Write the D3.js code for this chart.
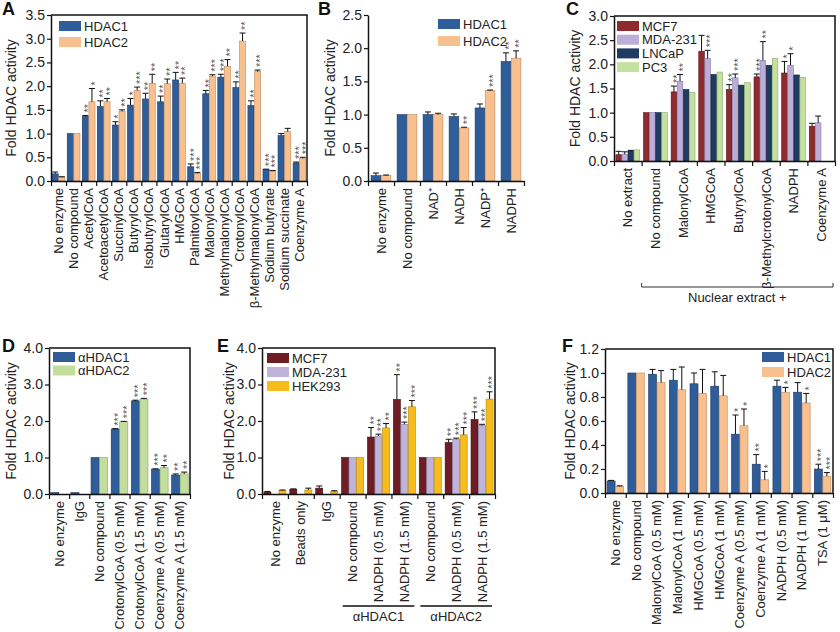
<!DOCTYPE html>
<html><head><meta charset="utf-8">
<script src="https://cdn.jsdelivr.net/npm/d3@7"></script>
<style>body{margin:0;background:#fff} svg{font-family:"Liberation Sans",Arial,Helvetica,sans-serif}</style>
</head><body><svg id="c" width="840" height="632"></svg>
<script>
// ---------- Panel A ----------
const aCats = ["No enzyme","No compound","AcetylCoA","AcetoacetylCoA","SuccinylCoA","ButyrylCoA","IsobutyrylCoA","GlutarylCoA","HMGCoA","PalmitoylCoA","MalonylCoA","MethylmalonylCoA","CrotonylCoA","β-MethylmalonylCoA","Sodium butyrate","Sodium succinate","Coenzyme A"];
const aHDAC1 = [0.15,1.0,1.36,1.57,1.18,1.60,1.73,1.67,2.13,0.30,1.84,2.19,1.97,1.59,0.24,0.96,0.38];
const aHDAC1Err = [0.04,0,0.02,0.12,0.07,0.14,0.12,0.12,0.16,0.06,0.07,0.06,0.12,0.10,0.01,0.04,0.02];
const aHDAC1Sig = ["","","**","**","*","*","**","**","**","***","**","***","**","**","***","","***"];
const aHDAC2 = [0.08,1.0,1.67,1.67,1.47,1.91,2.06,2.05,2.06,0.16,2.21,2.42,2.95,2.31,0.21,1.04,0.48];
const aHDAC2Err = [0.01,0,0.28,0.07,0.03,0.07,0.19,0.10,0.11,0.02,0.03,0.14,0.17,0.03,0.01,0.07,0.02];
const aHDAC2Sig = ["","","*","**","**","***","**","**","**","***","***","**","**","***","***","","***"];
const aTicks = [0,0.5,1,1.5,2,2.5,3,3.5];

// ---------- Panel B ----------
const bCats = ["No enzyme","No compound","NAD⁺","NADH","NADP⁺","NADPH"];
const bHDAC1 = [0.08,1.0,1.0,0.97,1.10,1.80];
const bHDAC1Err = [0.04,0,0.04,0.04,0.06,0.13];
const bHDAC1Sig = ["","","","","","**"];
const bHDAC2 = [0.08,1.0,1.0,0.80,1.36,1.85];
const bHDAC2Err = [0.01,0,0.02,0.01,0.01,0.11];
const bHDAC2Sig = ["","","","**","***","**"];
const bTicks = [0,0.5,1,1.5,2,2.5];

// ---------- Panel C ----------
const cCats = ["No extract","No compound","MalonylCoA","HMGCoA","ButyrylCoA","β-MethylcrotonylCoA","NADPH","Coenzyme A"];
const cMCF7 = [0.13,1,1.43,2.27,1.48,1.74,1.82,0.72];
const cMCF7Err = [0.07,0,0.12,0.33,0.10,0.06,0.24,0.06];
const cMCF7Sig = ["","","**","","**","***","*",""];
const cMDA = [0.14,1,1.65,2.12,1.72,2.08,1.98,0.79];
const cMDAErr = [0.05,0,0.14,0.17,0.08,0.39,0.24,0.14];
const cMDASig = ["","","**","***","***","**","*",""];
const cLNCaP = [0.21,1,1.48,1.79,1.57,1.98,1.78,null];
const cLNCaPErr = [0.01,0,0,0,0,0,0,0];
const cPC3 = [0.23,1,1.42,1.84,1.62,2.12,1.73,null];
const cPC3Err = [0,0,0,0,0,0,0,0];
const cTicks = [0,0.5,1,1.5,2,2.5,3];

// ---------- Panel D ----------
const dCats = ["No enzyme","IgG","No compound","CrotonylCoA (0.5 mM)","CrotonylCoA (1.5 mM)","Coenzyme A (0.5 mM)","Coenzyme A (1.5 mM)"];
const dHDAC1 = [0.04,0.04,1,1.78,2.55,0.68,0.52];
const dHDAC1Err = [0,0,0,0.01,0.02,0.01,0.03];
const dHDAC1Sig = ["","","","***","***","***","**"];
const dHDAC2 = [null,null,1,1.98,2.60,0.72,0.55];
const dHDAC2Err = [0,0,0,0.01,0.02,0.06,0.05];
const dHDAC2Sig = ["","","","***","***","**","**"];
const dTicks = [0,1,2,3,4];

// ---------- Panel E ----------
const eCats = ["No enzyme","Beads only","IgG","No compound","NADPH (0.5 mM)","NADPH (1.5 mM)","No compound","NADPH (0.5 mM)","NADPH (1.5 mM)"];
const eMCF7 = [0.05,0.13,0.16,1,1.56,2.59,1,1.41,2.04];
const eMCF7Err = [0.02,0.01,0.06,0,0.26,0.68,0,0.09,0.21];
const eMCF7Sig = ["","","","","**","**","","**","***"];
const eMDA = [null,null,null,1,1.59,1.91,1,1.50,1.88];
const eMDAErr = [0,0,0,0,0.05,0.06,0,0.03,0.03];
const eMDASig = ["","","","","***","***","","***","***"];
const eHEK = [0.10,0.11,0.07,1,1.81,2.39,1,1.62,2.60];
const eHEKErr = [0.01,0.05,0.02,0,0.12,0.17,0,0.20,0.20];
const eHEKSig = ["","","","","**","***","","***","***"];
const eGroups = ["αHDAC1","αHDAC2"];
const eTicks = [0,1,2,3,4];

// ---------- Panel F ----------
const fCats = ["No enzyme","No compound","MalonylCoA (0.5 mM)","MalonylCoA (1 mM)","HMGCoA (0.5 mM)","HMGCoA (1 mM)","Coenzyme A (0.5 mM)","Coenzyme A (1 mM)","NADPH (0.5 mM)","NADPH (1 mM)","TSA (1 μM)"];
const fHDAC1 = [0.10,1,0.99,0.94,0.91,0.89,0.49,0.24,0.89,0.84,0.20];
const fHDAC1Err = [0.005,0,0.04,0.09,0.09,0.12,0.16,0.08,0.05,0.08,0.04];
const fHDAC1Sig = ["","","","","","","*","**","","","***"];
const fHDAC2 = [0.055,1,0.92,0.86,0.83,0.81,0.56,0.11,0.84,0.75,0.14];
const fHDAC2Err = [0.005,0,0.10,0.19,0.20,0.17,0.14,0.07,0.04,0.08,0.03];
const fHDAC2Sig = ["","","","","","","*","*","*","*","***"];
const fTicks = [0,0.2,0.4,0.6,0.8,1.0,1.2];

const COL = {
  blue:["#2f5d9a","#1c3966"], orange:["#f8bf8f","#c08a5f"], green:["#c3dd9c","#87a565"],
  cMCF7:["#8e2b2e","#5a1518"], cMDA:["#bcadd9","#8778a8"], cLNCaP:["#1f3b61","#0f2038"], cPC3:["#c5e1a1","#8cab66"],
  eMCF7:["#6e1d24","#40090e"], eMDA:["#bfb3d9","#8a7eaa"], eHEK:["#f6bc1c","#b58608"]
};

const svg = d3.select("#c");
const FS = 13;     // category labels
const TFS = 14;    // tick labels
const YFS = 14;    // axis titles

function panel(o){
  const g = svg.append("g");
  const n = o.cats.length;
  const y = d3.scaleLinear().domain([0, o.ymax]).range([o.yb, o.yt]);
  const xb = d3.scaleBand().domain(d3.range(n)).range([o.x0, o.x1]).paddingInner(o.pad).paddingOuter(o.pad/2);
  const xs = d3.scaleBand().domain(d3.range(o.series.length)).range([0, xb.bandwidth()]);
  const xl = d3.scaleLinear().domain([0,n]).range([o.x0,o.x1]);

  if(o.box){
    g.append("path").attr("d",`M${o.x0},${o.yt}H${o.x1}V${o.yb}`).attr("fill","none").attr("stroke","#111").attr("stroke-width",1.5);
  }
  o.series.forEach((s,si)=>{
    const sg = g.append("g");
    s.v.forEach((v,i)=>{
      if(v==null) return;
      const bx = xb(i)+xs(si), bw = xs.bandwidth();
      sg.append("rect").attr("x",bx+0.25).attr("y",y(v)).attr("width",bw-0.5).attr("height",y(0)-y(v))
        .attr("fill",s.c[0]).attr("stroke",s.c[1]).attr("stroke-width",0.6);
      const e = s.e[i]||0;
      const cx = bx + bw/2;
      let top = y(v);
      if(e>0){
        const ty = y(v+e);
        sg.append("line").attr("x1",cx).attr("x2",cx).attr("y1",y(v)).attr("y2",ty).attr("stroke","#111").attr("stroke-width",1);
        sg.append("line").attr("x1",cx-Math.min(3,bw/2)).attr("x2",cx+Math.min(3,bw/2)).attr("y1",ty).attr("y2",ty).attr("stroke","#111").attr("stroke-width",1);
        top = ty;
      }
      const sig = s.s ? s.s[i] : "";
      if(sig){
        sg.append("text").attr("transform",`translate(${cx},${top-3}) rotate(-90)`)
          .attr("dy","0.62em").attr("text-anchor","start").attr("font-size",11).attr("fill","#555").text(sig);
      }
    });
  });
  const ya = g.append("g").attr("transform",`translate(${o.x0},0)`)
    .call(d3.axisLeft(y).tickValues(o.ticks).tickFormat(d3.format(".1f")).tickSize(4).tickSizeOuter(0));
  ya.select(".domain").attr("stroke","#111").attr("stroke-width",1.5);
  ya.selectAll(".tick line").attr("stroke","#111").attr("stroke-width",1.2);
  ya.selectAll(".tick text").attr("font-size",TFS).attr("font-family",null).attr("fill","#222").attr("x",-6);
  const xa = g.append("g").attr("transform",`translate(0,${o.yb})`)
    .call(d3.axisBottom(xl).tickValues(d3.range(0,n+1)).tickFormat("").tickSize(5).tickSizeOuter(0));
  xa.select(".domain").attr("stroke","#111").attr("stroke-width",1.5);
  xa.selectAll(".tick line").attr("stroke","#111").attr("stroke-width",1.2);
  g.selectAll(".cl").data(o.cats).join("text")
    .attr("transform",(d,i)=>`translate(${xb(i)+xb.bandwidth()/2},${o.yb+7}) rotate(-90)`)
    .attr("dy","0.35em").attr("text-anchor","end").attr("font-size",FS).attr("fill","#222").text(d=>d);
  g.append("text").attr("transform",`translate(${o.ylx},${(o.yt+o.yb)/2}) rotate(-90)`)
    .attr("text-anchor","middle").attr("font-size",YFS).attr("fill","#222").text("Fold HDAC activity");
  g.append("text").attr("x",o.lx).attr("y",o.ly).attr("font-size",18).attr("font-weight","bold").attr("fill","#111").text(o.letter);
  o.series.forEach((s,si)=>{
    const ly = o.leg[1] + si*o.leg[2];
    g.append("rect").attr("x",o.leg[0]).attr("y",ly).attr("width",22).attr("height",o.leg[3]).attr("fill",s.c[0]);
    g.append("text").attr("x",o.leg[0]+25).attr("y",ly+o.leg[3]/2).attr("dy","0.36em").attr("font-size",FS).attr("fill","#222").text(s.name);
  });
  return {g,xb,xl,y};
}

panel({letter:"A",lx:2,ly:15,cats:aCats,x0:51,x1:307,yt:15,yb:181,ymax:3.5,ticks:aTicks,box:true,pad:0.12,ylx:16,
  leg:[59,21,16,10],
  series:[{name:"HDAC1",v:aHDAC1,e:aHDAC1Err,s:aHDAC1Sig,c:COL.blue},{name:"HDAC2",v:aHDAC2,e:aHDAC2Err,s:aHDAC2Sig,c:COL.orange}]});

panel({letter:"B",lx:318,ly:15,cats:bCats,x0:368,x1:524,yt:15,yb:181,ymax:2.5,ticks:bTicks,box:false,pad:0.22,ylx:335,
  leg:[438,19,17,10],
  series:[{name:"HDAC1",v:bHDAC1,e:bHDAC1Err,s:bHDAC1Sig,c:COL.blue},{name:"HDAC2",v:bHDAC2,e:bHDAC2Err,s:bHDAC2Sig,c:COL.orange}]});

const pc = panel({letter:"C",lx:566,ly:15,cats:cCats,x0:614,x1:835,yt:16,yb:161,ymax:3,ticks:cTicks,box:true,pad:0.12,ylx:580,
  leg:[617,21,13.7,10],
  series:[{name:"MCF7",v:cMCF7,e:cMCF7Err,s:cMCF7Sig,c:COL.cMCF7},{name:"MDA-231",v:cMDA,e:cMDAErr,s:cMDASig,c:COL.cMDA},
          {name:"LNCaP",v:cLNCaP,e:cLNCaPErr,c:COL.cLNCaP},{name:"PC3",v:cPC3,e:cPC3Err,c:COL.cPC3}]});
{
  const bx0 = pc.xl(1)+0, bx1 = pc.xl(cCats.length)-2, by = 287;
  pc.g.append("path").attr("d",`M${bx0},${by-4}V${by}H${bx1}V${by-4}`).attr("fill","none").attr("stroke","#333").attr("stroke-width",1);
  pc.g.append("text").attr("x",(bx0+bx1)/2).attr("y",by+15).attr("text-anchor","middle").attr("font-size",FS).attr("fill","#222").text("Nuclear extract +");
}

panel({letter:"D",lx:2,ly:352,cats:dCats,x0:49,x1:190,yt:348,yb:494,ymax:4,ticks:dTicks,box:true,pad:0.15,ylx:16,
  leg:[53,352,13.5,10],
  series:[{name:"αHDAC1",v:dHDAC1,e:dHDAC1Err,s:dHDAC1Sig,c:COL.blue},{name:"αHDAC2",v:dHDAC2,e:dHDAC2Err,s:dHDAC2Sig,c:COL.green}]});

const pe = panel({letter:"E",lx:217,ly:352,cats:eCats,x0:262,x1:495,yt:348,yb:494,ymax:4,ticks:eTicks,box:true,pad:0.13,ylx:234,
  leg:[267,353,14,10],
  series:[{name:"MCF7",v:eMCF7,e:eMCF7Err,s:eMCF7Sig,c:COL.eMCF7},{name:"MDA-231",v:eMDA,e:eMDAErr,s:eMDASig,c:COL.eMDA},{name:"HEK293",v:eHEK,e:eHEKErr,s:eHEKSig,c:COL.eHEK}]});
eGroups.forEach((gname,k)=>{
  const gx0 = pe.xl(3+3*k)+3, gx1 = pe.xl(6+3*k)-3, gy = 606;
  pe.g.append("line").attr("x1",gx0).attr("x2",gx1).attr("y1",gy).attr("y2",gy).attr("stroke","#111").attr("stroke-width",1.5);
  pe.g.append("text").attr("x",(gx0+gx1)/2).attr("y",gy+15).attr("text-anchor","middle").attr("font-size",FS).attr("fill","#222").text(gname);
});

panel({letter:"F",lx:562,ly:352,cats:fCats,x0:605,x1:833,yt:349,yb:493,ymax:1.2,ticks:fTicks,box:true,pad:0.18,ylx:575,
  leg:[762,352,15,10],
  series:[{name:"HDAC1",v:fHDAC1,e:fHDAC1Err,s:fHDAC1Sig,c:COL.blue},{name:"HDAC2",v:fHDAC2,e:fHDAC2Err,s:fHDAC2Sig,c:COL.orange}]});
</script></body></html>
